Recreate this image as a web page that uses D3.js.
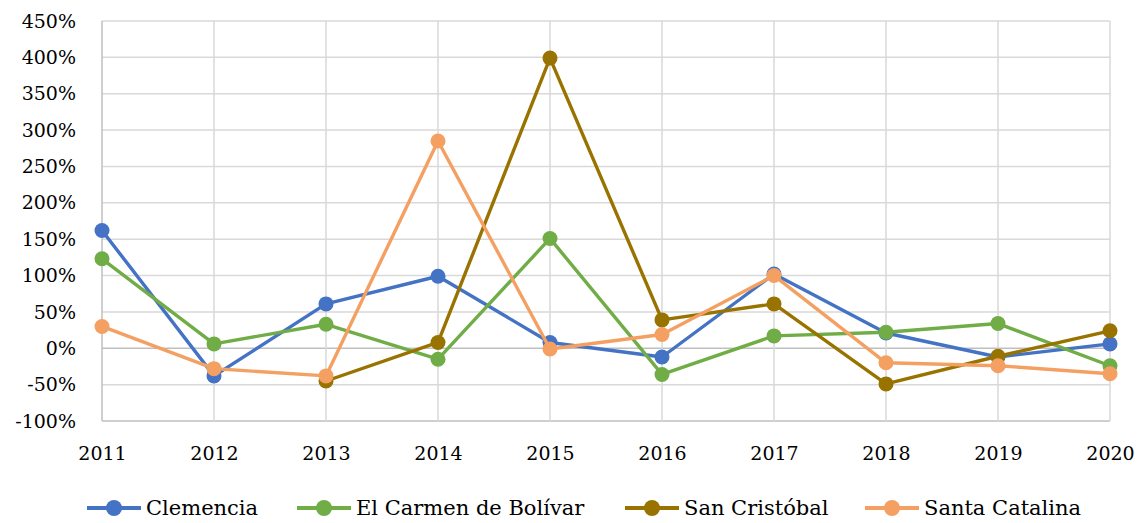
<!DOCTYPE html>
<html>
<head>
<meta charset="utf-8">
<script src="https://cdn.jsdelivr.net/npm/d3@7"></script>
<style>
  body { margin: 0; background: #fff; }
</style>
</head>
<body>
<div id="chart"></div>
<script>
const years = [2011, 2012, 2013, 2014, 2015, 2016, 2017, 2018, 2019, 2020]

const clemencia = [162, -38, 61, 99, 8, -12, 102, 21, -12, 6]
const elCarmen = [123, 6, 33, -15, 151, -36, 17, 22, 34, -24]
const sanCristobal = [null, null, -45, 8, 399, 39, 61, -49, -11, 24]
const santaCatalina = [30, -28, -38, 285, -1, 19, 100, -20, -24, -35]

const seriesNames = ["Clemencia", "El Carmen de Bolívar", "San Cristóbal", "Santa Catalina"]
const seriesColors = ["#4472C4", "#70AD47", "#997300", "#F4A062"]
const yTicks = [-100, -50, 0, 50, 100, 150, 200, 250, 300, 350, 400, 450]

// Liberation Serif is not picked up here, DejaVu Serif is
const FONT = "DejaVu Serif, serif"
const FONT_SIZE = 19

const series = [clemencia, elCarmen, sanCristobal, santaCatalina].map((vals, i) => ({
    name: seriesNames[i],
    color: seriesColors[i],
    values: vals.map((v, j) => ({ year: years[j], value: v }))
}))

const W = 1143, H = 523
const margin = { top: 21, right: 33, bottom: 102, left: 102 }

const svg = d3.select("#chart").append("svg")
    .attr("width", W)
    .attr("height", H)

const x = d3.scalePoint()
    .domain(years)
    .range([margin.left, W - margin.right])

const y = d3.scaleLinear()
    .domain([-100, 450])
    .range([H - margin.bottom, margin.top])

// gridlines
svg.append("g")
    .selectAll("line")
    .data(yTicks)
    .enter().append("line")
    .attr("x1", margin.left).attr("x2", W - margin.right)
    .attr("y1", d => y(d)).attr("y2", d => y(d))
    .attr("stroke", d => (d === 0 || d === -100) ? "#BFBFBF" : "#D9D9D9")
    .attr("stroke-width", 1.5)

svg.append("g")
    .selectAll("line")
    .data(years)
    .enter().append("line")
    .attr("x1", d => x(d)).attr("x2", d => x(d))
    .attr("y1", margin.top).attr("y2", H - margin.bottom)
    .attr("stroke", d => d === years[0] ? "#BFBFBF" : "#D9D9D9")
    .attr("stroke-width", 1.5)

// y axis labels
const yAxis = d3.axisLeft(y).tickValues(yTicks).tickSize(0).tickPadding(26)
    .tickFormat(d => d + "%")
svg.append("g")
    .attr("transform", "translate(" + margin.left + ",0)")
    .call(yAxis)
    .attr("font-family", FONT)
    .attr("font-size", FONT_SIZE)
    .call(g => g.select(".domain").remove())
    .call(g => g.selectAll("text").attr("fill", "#000"))

// x axis labels
const xAxis = d3.axisBottom(x).tickSize(0).tickPadding(26)
svg.append("g")
    .attr("transform", "translate(0," + (H - margin.bottom) + ")")
    .call(xAxis)
    .attr("font-family", FONT)
    .attr("font-size", FONT_SIZE)
    .call(g => g.select(".domain").remove())
    .call(g => g.selectAll("text").attr("fill", "#000"))

// lines
const line = d3.line()
    .defined(d => d.value != null)
    .x(d => x(d.year))
    .y(d => y(d.value))

const groups = svg.append("g")
    .selectAll("g")
    .data(series)
    .enter().append("g")

groups.append("path")
    .attr("fill", "none")
    .attr("stroke", d => d.color)
    .attr("stroke-width", 3.4)
    .attr("stroke-linejoin", "round")
    .attr("d", d => line(d.values))

groups.selectAll("circle")
    .data(d => d.values.filter(v => v.value != null).map(v => ({ ...v, color: d.color })))
    .enter().append("circle")
    .attr("cx", d => x(d.year))
    .attr("cy", d => y(d.value))
    .attr("r", 7.5)
    .attr("fill", d => d.color)

// legend
const legendX = [87, 297, 625, 865]
const legendY = 508
const legend = svg.append("g")
    .attr("font-family", FONT)
    .attr("font-size", 21)
    .selectAll("g")
    .data(series)
    .enter().append("g")
    .attr("transform", (d, i) => "translate(" + legendX[i] + "," + legendY + ")")

legend.append("line")
    .attr("x1", 0).attr("x2", 54)
    .attr("stroke", d => d.color)
    .attr("stroke-width", 4)
legend.append("circle")
    .attr("cx", 27).attr("r", 8)
    .attr("fill", d => d.color)
legend.append("text")
    .attr("x", 59)
    .attr("y", 7)
    .attr("fill", "#000")
    .text(d => d.name)
</script>
</body>
</html>
